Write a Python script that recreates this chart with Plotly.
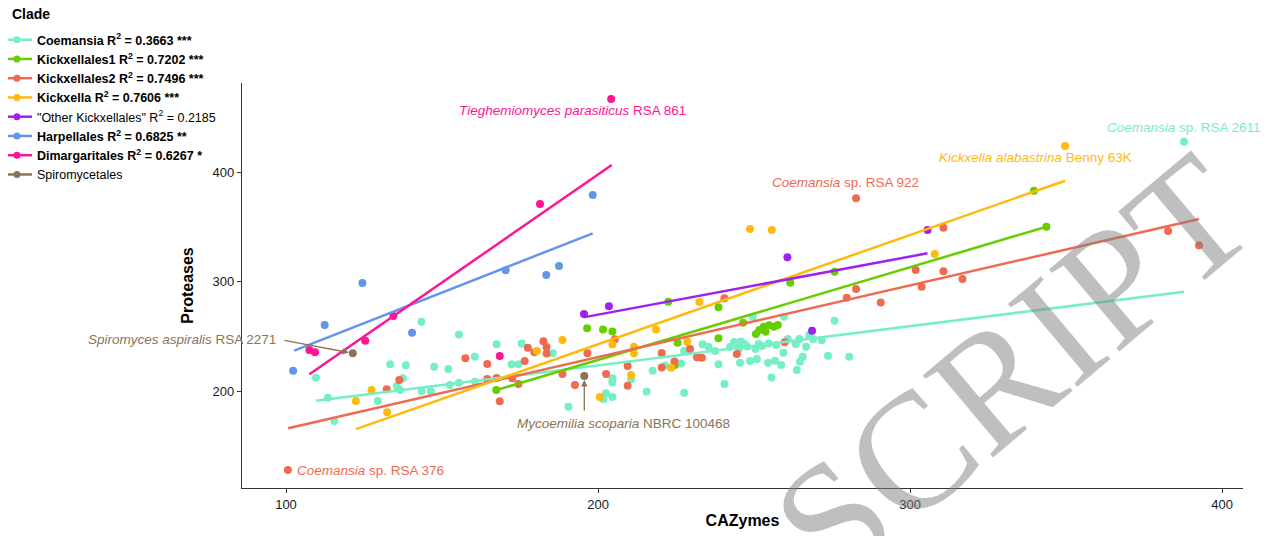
import plotly.graph_objects as go

# ---------------- data ----------------
clades = ["Coemansia", "Kickxellales1", "Kickxellales2", "Kickxella",
          "Other Kickxellales", "Harpellales", "Dimargaritales", "Spiromycetales"]

legend_names = [
    "<b>Coemansia R<sup>2</sup> = 0.3663 ***</b>",
    "<b>Kickxellales1 R<sup>2</sup> = 0.7202 ***</b>",
    "<b>Kickxellales2 R<sup>2</sup> = 0.7496 ***</b>",
    "<b>Kickxella R<sup>2</sup> = 0.7606 ***</b>",
    "\"Other Kickxellales\" R<sup>2</sup> = 0.2185",
    "<b>Harpellales R<sup>2</sup> = 0.6825 **</b>",
    "<b>Dimargaritales R<sup>2</sup> = 0.6267 *</b>",
    "Spiromycetales",
]

colors = ["#76EEC6", "#66CD00", "#EE6A50", "#FFB90F",
          "#A020F0", "#6495ED", "#FF1493", "#8B7355"]

coemansia_x = [109.6, 113.4, 115.5, 129.4, 133.4, 138.4, 135.5, 136.5, 137.4, 143.5,
               146.4, 147.5, 152.0, 152.5, 155.4, 160.6, 143.4, 155.4, 160.5, 167.5,
               172.3, 174.5, 175.5, 185.5, 190.5, 201.7, 202.6, 204.6, 204.6, 204.6,
               210.6, 215.6, 217.5, 221.5, 226.6, 227.6, 227.6, 233.5, 235.4, 237.5,
               238.6, 240.5, 245.5, 248.7, 250.9, 250.4, 249.6, 254.7, 255.6, 254.5,
               256.7, 258.7, 259.4, 259.6, 260.8, 263.4, 264.5, 263.7, 264.7, 265.6,
               266.7, 267.7, 271.7, 273.7, 275.8, 280.5, 387.8, 243.6, 244.7, 245.8,
               246.9, 247.8, 242.3, 245.2, 268.9, 251.5, 252.6, 257.1]
coemansia_y = [212.2, 193.9, 172.6, 190.9, 224.4, 223.5, 204.6, 200.9, 211.6, 200.0,
               200.0, 222.2, 220.1, 205.5, 207.6, 208.5, 263.4, 251.7, 231.4, 242.7,
               224.4, 224.4, 243.6, 234.5, 185.6, 192.4, 197.9, 194.5, 211.6, 207.8,
               210.7, 199.4, 218.6, 223.3, 225.3, 198.4, 236.6, 242.7, 240.5, 236.6,
               224.4, 206.4, 225.9, 227.4, 229.3, 238.4, 268.0, 243.6, 212.5, 225.9,
               227.7, 223.8, 235.0, 268.0, 247.6, 243.0, 247.6, 219.2, 226.8, 231.4,
               240.5, 251.2, 246.4, 232.3, 264.3, 231.4, 428.1, 244.8, 243.5, 245.3,
               243.0, 240.7, 240.3, 238.9, 247.6, 243.0, 241.2, 242.1]

kickxellales1_x = [167.4, 196.5, 201.6, 204.6, 222.5, 225.5, 224.6, 238.6, 238.6, 246.5,
                   250.6, 251.7, 253.1, 253.7, 254.8, 256.4, 257.6, 261.6, 275.8, 339.7,
                   343.7]
kickxellales1_y = [200.9, 257.4, 256.3, 254.4, 281.6, 244.2, 223.8, 276.6, 248.2, 262.5,
                   252.1, 255.8, 258.8, 254.3, 260.1, 258.8, 260.4, 299.1, 309.2, 383.3,
                   350.3]

kickxellales2_x = [100.6, 132.3, 136.3, 157.5, 164.5, 164.5, 167.5, 168.5, 172.5, 174.5,
                   176.5, 177.5, 179.6, 182.5, 183.5, 183.5, 188.6, 192.6, 196.6, 202.6,
                   205.4, 209.5, 209.5, 220.4, 220.4, 224.5, 229.5, 231.7, 233.3, 240.5,
                   244.5, 259.8, 279.7, 282.7, 282.7, 290.6, 301.8, 303.7, 310.7, 310.7,
                   316.8, 382.7, 392.6]
kickxellales2_y = [127.7, 201.6, 210.2, 229.9, 224.7, 211.0, 211.9, 190.6, 211.6, 206.4,
                   227.4, 239.6, 235.4, 245.5, 240.3, 234.3, 215.6, 205.5, 234.5, 215.6,
                   247.3, 222.9, 204.8, 234.8, 221.5, 227.0, 238.4, 230.8, 230.5, 284.8,
                   233.9, 244.6, 285.4, 293.3, 376.3, 281.1, 310.7, 295.4, 309.5, 349.4,
                   302.5, 346.4, 333.3]

kickxella_x = [122.4, 127.4, 132.4, 180.4, 188.6, 200.6, 204.6, 210.6, 211.5, 211.5,
               218.6, 223.4, 228.6, 232.5, 248.7, 255.7, 307.9, 349.7]
kickxella_y = [190.9, 200.9, 180.5, 236.6, 246.7, 194.5, 242.5, 214.6, 240.5, 234.5,
               256.4, 221.3, 245.1, 281.4, 348.2, 347.3, 325.3, 424.2]

other_x = [195.5, 203.5, 260.7, 268.6, 305.6]
other_y = [270.4, 277.5, 322.3, 255.2, 347.3]

harpellales_x = [102.3, 112.4, 124.5, 140.4, 170.4, 183.4, 187.5, 198.3]
harpellales_y = [218.6, 260.4, 298.8, 253.3, 310.4, 306.1, 314.4, 379.3]

dimargaritales_x = [107.5, 109.3, 125.4, 134.4, 168.5, 181.4, 204.2]
dimargaritales_y = [237.5, 235.4, 246.0, 268.6, 232.0, 371.1, 467.2]

spiromycetales_x = [121.4, 195.6]
spiromycetales_y = [234.5, 213.7]

# fitted regression lines (start / end); None = no fit
fit_x0 = [109.6, 167.4, 100.7, 122.4, 195.3, 102.6, 107.5, None]
fit_x1 = [387.8, 343.7, 392.6, 349.7, 305.6, 198.3, 204.4, None]
fit_y0 = [191.1, 200.9, 165.9, 165.2, 267.4, 236.9, 215.3, None]
fit_y1 = [290.8, 350.3, 357.4, 392.4, 326.0, 344.3, 406.8, None]

xs = [coemansia_x, kickxellales1_x, kickxellales2_x, kickxella_x,
      other_x, harpellales_x, dimargaritales_x, spiromycetales_x]
ys = [coemansia_y, kickxellales1_y, kickxellales2_y, kickxella_y,
      other_y, harpellales_y, dimargaritales_y, spiromycetales_y]

x_ticks = [100, 200, 300, 400]
y_ticks = [200, 300, 400]

# ---------------- figure ----------------
FONT = "Liberation Sans, Arial, Helvetica, sans-serif"
fig = go.Figure()

# points
for name, c, x, y in zip(clades, colors, xs, ys):
    fig.add_trace(go.Scatter(x=x, y=y, mode="markers", name=name,
                             marker=dict(color=c, size=8, line=dict(width=0)),
                             showlegend=False, hoverinfo="x+y+name"))

# regression lines
for name, c, a0, a1, b0, b1 in zip(clades, colors, fit_x0, fit_x1, fit_y0, fit_y1):
    if a0 is None:
        continue
    fig.add_trace(go.Scatter(x=[a0, a1], y=[b0, b1], mode="lines",
                             line=dict(color=c, width=2.5),
                             showlegend=False, hoverinfo="skip"))

# legend entries (line + dot keys)
for lname, c in zip(legend_names, colors):
    fig.add_trace(go.Scatter(x=[None], y=[None], mode="lines+markers", name=lname,
                             line=dict(color=c, width=2.5),
                             marker=dict(color=c, size=7)))

label_color = dict(zip(clades, colors))
annotations = [
    dict(x=191.7, y=456.2, text="<i>Tieghemiomyces parasiticus</i> RSA 861",
         font=dict(color=label_color["Dimargaritales"]), xanchor="center"),
    dict(x=387.8, y=441.5, text="<i>Coemansia</i> sp. RSA 2611",
         font=dict(color=label_color["Coemansia"]), xanchor="center"),
    dict(x=340.1, y=413.2, text="<i>Kickxella alabastrina</i> Benny 63K",
         font=dict(color=label_color["Kickxella"]), xanchor="center"),
    dict(x=279.2, y=390.9, text="<i>Coemansia</i> sp. RSA 922",
         font=dict(color=label_color["Kickxellales2"]), xanchor="center"),
    dict(x=97.4, y=246.7, text="<i>Spiromyces aspiralis</i> RSA 2271",
         font=dict(color=label_color["Spiromycetales"]), xanchor="right"),
    dict(x=208.3, y=170.4, text="<i>Mycoemilia scoparia</i> NBRC 100468",
         font=dict(color=label_color["Spiromycetales"]), xanchor="center"),
    dict(x=102.9, y=127.1, text="<i>Coemansia</i> sp. RSA 376",
         font=dict(color=label_color["Kickxellales2"]), xanchor="left"),
]
for a in annotations:
    a.update(xref="x", yref="y", showarrow=False, yanchor="middle")
    a["font"].update(size=13.5, family=FONT)

# arrows from labels to points
arrows = [
    dict(x=spiromycetales_x[0], y=spiromycetales_y[0], ax=99.0, ay=246.7),
    dict(x=spiromycetales_x[1], y=spiromycetales_y[1], ax=195.6, ay=180.8),
]
for a in arrows:
    a.update(xref="x", yref="y", axref="x", ayref="y", text="", showarrow=True,
             arrowhead=2, arrowsize=1, arrowwidth=1.3, arrowcolor="#8B7355",
             standoff=4)
    annotations.append(a)

# legend title
annotations.append(dict(xref="paper", yref="paper", x=-0.2318, y=1.170,
                        xanchor="left", yanchor="middle", showarrow=False,
                        text="<b>Clade</b>", font=dict(size=14, family=FONT, color="black")))

# watermark
annotations.append(dict(xref="paper", yref="paper", x=0.770, y=0.294,
                        xanchor="center", yanchor="middle",
                        text="SCRIPT", showarrow=False, textangle=-40,
                        font=dict(family="Liberation Serif, Times New Roman, serif",
                                  size=165, color="rgba(128,128,128,0.5)")))

fig.update_layout(
    width=1265, height=528,
    margin=dict(l=234, r=30, t=75, b=48, autoexpand=False),
    paper_bgcolor="white", plot_bgcolor="white",
    font=dict(family=FONT, color="black"),
    annotations=annotations,
    showlegend=True,
    legend=dict(x=-0.2448, y=1.143, xanchor="left", yanchor="top",
                font=dict(size=12.5, family=FONT), itemwidth=30,
                bgcolor="rgba(0,0,0,0)", tracegroupgap=0),
)
fig.update_xaxes(range=[85.9, 406.7], tickvals=x_ticks, ticks="outside", ticklen=4,
                 tickcolor="#333", showline=True, linecolor="#333", linewidth=1.3,
                 showgrid=False, zeroline=False, tickfont=dict(size=13, color="#1a1a1a"),
                 title=dict(text="<b>CAZymes</b>", font=dict(size=16), standoff=4))
fig.update_yaxes(range=[111.3, 481.8], tickvals=y_ticks, ticks="outside", ticklen=4,
                 tickcolor="#333", showline=True, linecolor="#333", linewidth=1.3,
                 showgrid=False, zeroline=False, tickfont=dict(size=13, color="#1a1a1a"),
                 title=dict(text="<b>Proteases</b>", font=dict(size=16), standoff=14))

fig.write_html("out.html")
